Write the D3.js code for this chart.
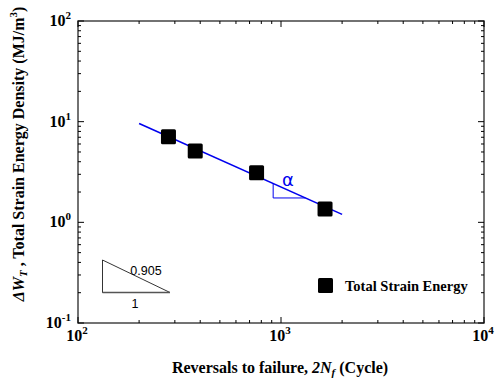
<!DOCTYPE html>
<html>
<head>
<meta charset="utf-8">
<script src="https://cdn.jsdelivr.net/npm/d3@7"></script>
<style>
  body { margin: 0; background: #fff; }
  text { font-family: "Liberation Serif", "Times New Roman", serif; }
</style>
</head>
<body>
<svg id="chart" width="498" height="379"></svg>
<script>
// data
const cycles = [279, 378, 758, 1648];
const energy = [7.1, 5.1, 3.1, 1.36];
const fitX = [200, 2000];
const fitY = [9.6, 1.2];
const xTicks = [100, 1000, 10000];
const yTicks = [0.1, 1, 10, 100];
const slopeLabel = "0.905";

const svg = d3.select("#chart");
const pLeft = 78, pRight = 484, pTop = 21, pBottom = 323;

const x = d3.scaleLog().domain([100, 10000]).range([pLeft, pRight]);
const y = d3.scaleLog().domain([0.1, 100]).range([pBottom, pTop]);

const minorX = [];
for (let d = 100; d < 10000; d *= 10) for (let k = 2; k < 10; k++) minorX.push(d * k);
const minorY = [];
for (let d = 0.1; d < 99; d *= 10) for (let k = 2; k < 10; k++) minorY.push(+(d * k).toPrecision(3));

// frame
svg.append("rect")
  .attr("x", pLeft).attr("y", pTop)
  .attr("width", pRight - pLeft).attr("height", pBottom - pTop)
  .attr("fill", "none").attr("stroke", "#444").attr("stroke-width", 1.5);

// inward ticks on all four sides
function ticks(vals, len) {
  vals.forEach(function (v) {
    svg.append("line").attr("x1", x(v)).attr("x2", x(v)).attr("y1", pBottom).attr("y2", pBottom - len).attr("stroke", "#000");
    svg.append("line").attr("x1", x(v)).attr("x2", x(v)).attr("y1", pTop).attr("y2", pTop + len).attr("stroke", "#000");
  });
}
ticks(minorX, 3);
ticks(xTicks, 6);
function yticks(vals, len) {
  vals.forEach(function (v) {
    svg.append("line").attr("y1", y(v)).attr("y2", y(v)).attr("x1", pLeft).attr("x2", pLeft + len).attr("stroke", "#000");
    svg.append("line").attr("y1", y(v)).attr("y2", y(v)).attr("x1", pRight).attr("x2", pRight - len).attr("stroke", "#000");
  });
}
yticks(minorY, 3);
yticks(yTicks, 6);

// tick labels as 10^n
function pow(sel, v) {
  sel.append("tspan").text("10");
  sel.append("tspan").attr("dy", -7).attr("font-size", 11).text(Math.round(Math.log10(v)));
}
xTicks.forEach(function (v) {
  const t = svg.append("text").attr("x", x(v) - 1).attr("y", 341)
    .attr("text-anchor", "middle").attr("font-weight", "bold").attr("font-size", 16);
  pow(t, v);
});
yTicks.forEach(function (v) {
  const t = svg.append("text").attr("x", 71).attr("y", y(v) + 5)
    .attr("text-anchor", "end").attr("font-weight", "bold").attr("font-size", 16);
  pow(t, v);
});

// axis titles
const xt = svg.append("text").attr("x", 280).attr("y", 373)
  .attr("text-anchor", "middle").attr("font-weight", "bold").attr("font-size", 16);
xt.append("tspan").text("Reversals to failure, ");
xt.append("tspan").attr("font-style", "italic").text("2N");
xt.append("tspan").attr("font-style", "italic").attr("font-size", 11).attr("dy", 3).text("f");
xt.append("tspan").attr("dy", -3).text(" (Cycle)");

const yt = svg.append("text")
  .attr("transform", "translate(24,154) rotate(-90)")
  .attr("text-anchor", "middle").attr("font-weight", "bold").attr("font-size", 16);
yt.append("tspan").attr("font-style", "italic").text("ΔW");
yt.append("tspan").attr("font-style", "italic").attr("font-size", 11).attr("dy", 3).text("T");
yt.append("tspan").attr("dy", -3).text(" , Total Strain Energy Density (MJ/m");
yt.append("tspan").attr("font-size", 11).attr("dy", -7).text("3");
yt.append("tspan").attr("dy", 7).text(")");

// fit line
svg.append("line")
  .attr("x1", x(fitX[0])).attr("y1", y(fitY[0]))
  .attr("x2", x(fitX[1])).attr("y2", y(fitY[1]))
  .attr("stroke", "#0000ee").attr("stroke-width", 1.6);

// alpha slope mark under the line
const ax0 = 915, ax1 = 1320;
const fitAt = function (v) {
  const s = Math.log(fitY[1] / fitY[0]) / Math.log(fitX[1] / fitX[0]);
  return fitY[0] * Math.pow(v / fitX[0], s);
};
svg.append("path")
  .attr("d", d3.line()([[x(ax0), y(fitAt(ax0))], [x(ax0), y(fitAt(ax1))], [x(ax1), y(fitAt(ax1))]]))
  .attr("fill", "none").attr("stroke", "#0000ee").attr("stroke-width", 1);
svg.append("text").attr("x", 288).attr("y", 186)
  .attr("text-anchor", "middle").attr("fill", "#0000ee")
  .style("font-family", "'DejaVu Sans', sans-serif").attr("font-size", 18).text("α");

// data points
svg.selectAll("rect.pt")
  .data(cycles)
  .enter()
  .append("rect")
  .attr("class", "pt")
  .attr("x", function (d) { return x(d) - 7.5; })
  .attr("y", function (d, i) { return y(energy[i]) - 7.5; })
  .attr("width", 15).attr("height", 15)
  .attr("rx", 1.5)
  .attr("fill", "#000");

// slope triangle, lower left
svg.append("path")
  .attr("d", "M102.5,260 L102.5,292.5 L170,292.5 Z")
  .attr("fill", "none").attr("stroke", "#000").attr("stroke-width", 0.8);
svg.append("line").attr("x1", 102.5).attr("x2", 170).attr("y1", 292.5).attr("y2", 292.5)
  .attr("stroke", "#555").attr("stroke-width", 1.5);
svg.append("text").attr("x", 146).attr("y", 275).attr("text-anchor", "middle")
  .style("font-family", "'Liberation Sans', Arial, sans-serif").attr("font-size", 12.5).text(slopeLabel);
svg.append("text").attr("x", 135).attr("y", 308).attr("text-anchor", "middle")
  .style("font-family", "'Liberation Sans', Arial, sans-serif").attr("font-size", 12.5).text("1");

// legend
svg.append("rect").attr("x", 318).attr("y", 278).attr("width", 15).attr("height", 15)
  .attr("rx", 1.5).attr("fill", "#000");
svg.append("text").attr("x", 345).attr("y", 291)
  .attr("font-weight", "bold").attr("font-size", 14.5).text("Total Strain Energy");
</script>
</body>
</html>
